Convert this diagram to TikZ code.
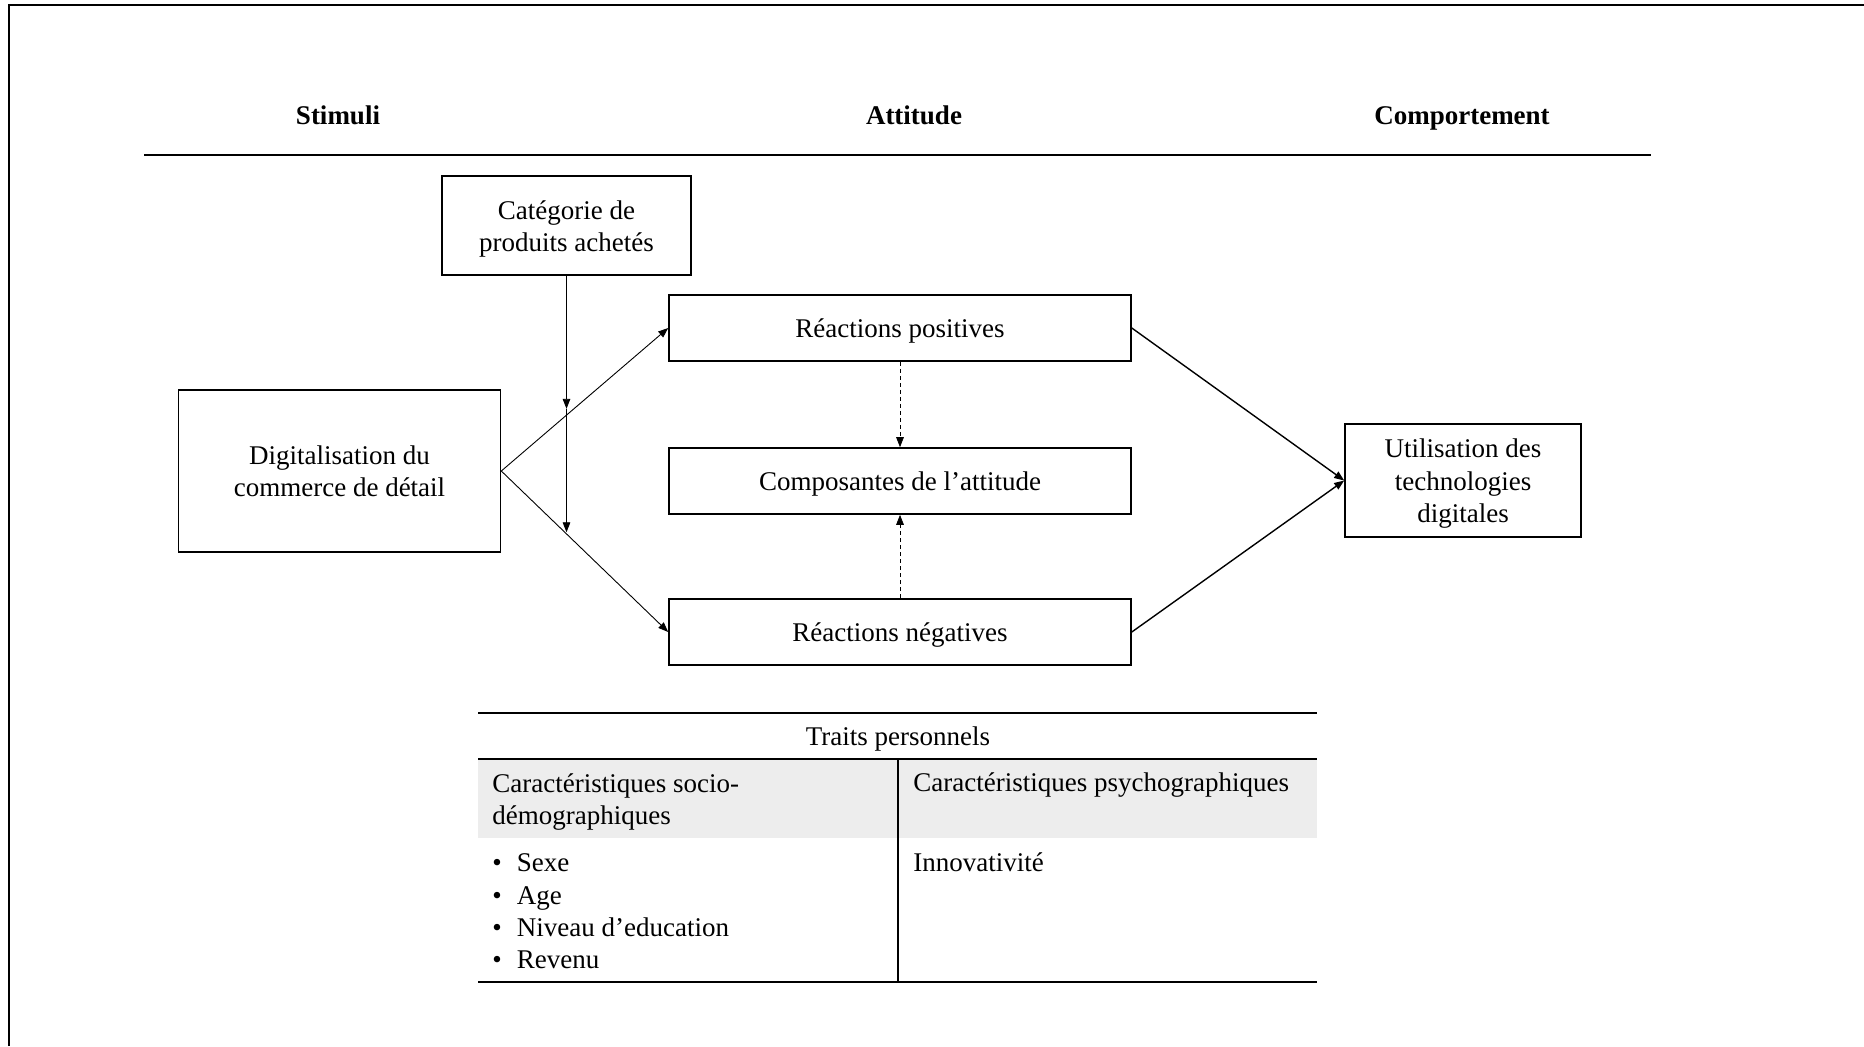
\documentclass[tikz,border=0pt]{standalone}
\usepackage{fontspec}
\setmainfont{Liberation Serif}
\usetikzlibrary{arrows.meta,calc}
\begin{document}
\begin{tikzpicture}[x=0.5pt,y=-0.5pt,
  st/.style={text height=12.7pt, text depth=3pt},
  l2/.style={text height=28.9pt},
  l3/.style={text height=45.1pt},
  l2t/.style={text height=28.7pt},
  txt/.style={font=\fontsize{13.5}{16.2}\selectfont, st},
  hdr/.style={font=\fontsize{13.5}{16.2}\selectfont\bfseries, st},
  tbl/.style={font=\fontsize{13.5}{16}\selectfont, inner sep=0pt, st},
  box/.style={draw, line width=0.8pt, align=center, inner sep=0pt, txt},
  arr/.style={-{Triangle[length=5pt,width=3.8pt]}},
  dsh/.style={arr, line width=0.4pt, dash pattern=on 2pt off 1.5pt}]
\useasboundingbox (0,0) rectangle (1864,1046);
% frame
\draw[line width=1pt] (9,1046) -- (9,5) -- (1864,5);
% headers
\node[hdr] (h1) at (338,115) {Stimuli};
\node[hdr] (h2) at (914,115) {Attitude};
\node[hdr] (h3) at (1462,115) {Comportement};
\draw[line width=0.9pt] (144,155) -- (1651,155);
% boxes
\node[box, l2, minimum width=124.5pt, minimum height=49.5pt] (cat) at (566.5,225.5) {Catégorie de\\produits achetés};
\node[box, l2, minimum width=161pt, minimum height=81pt] (dig) at (339.5,471) {Digitalisation du\\commerce de détail};
\node[box, minimum width=231pt, minimum height=33pt] (pos) at (900,328) {Réactions positives};
\node[box, minimum width=231pt, minimum height=33pt] (comp) at (900,481) {Composantes de l’attitude};
\node[box, minimum width=231pt, minimum height=33pt] (neg) at (900,632) {Réactions négatives};
\node[box, l3, minimum width=118pt, minimum height=56.5pt] (util) at (1463,480.5) {Utilisation des\\technologies\\digitales};
% connectors
\draw[arr, line width=0.45pt] (dig.east) -- (pos.west);
\draw[arr, line width=0.45pt] (dig.east) -- (neg.west);
\coordinate (m1) at ($(dig.east)!0.393!(pos.west)$);
\coordinate (m2) at ($(dig.east)!0.393!(neg.west)$);
\coordinate (m1t) at (cat.south |- m1);
\coordinate (m2t) at (cat.south |- m2);
\draw[arr, line width=0.45pt] (cat.south) -- ([yshift=3pt]m1t);
\draw[arr, line width=0.45pt] ([yshift=3pt]m1t) -- ([yshift=1pt]m2t);
\draw[dsh] (pos.south) -- (comp.north);
\draw[dsh] (neg.north) -- (comp.south);
\draw[arr, line width=0.7pt] (pos.east) -- (util.west);
\draw[arr, line width=0.7pt] (neg.east) -- (util.west);
% table
\fill[black!7] (478,759) rectangle (1317,838);
\draw[line width=0.8pt] (478,713) -- (1317,713);
\draw[line width=0.8pt] (478,759) -- (1317,759);
\draw[line width=0.8pt] (478,982) -- (1317,982);
\draw[line width=0.6pt] (898,759) -- (898,982);
\node[tbl] (tp) at (898,736) {Traits personnels};
\node[tbl, l2t, anchor=west, align=left] (c1) at (492,799) {Caractéristiques socio-\\démographiques};
\node[tbl, anchor=west] (c2) at (913,782) {Caractéristiques psychographiques};
\node[tbl, anchor=west] (b1) at (492,862) {•\hspace{7.5pt}Sexe};
\node[tbl, anchor=west] (b2) at (492,895) {•\hspace{7.5pt}Age};
\node[tbl, anchor=west] (b3) at (492,927) {•\hspace{7.5pt}Niveau d’education};
\node[tbl, anchor=west] (b4) at (492,959) {•\hspace{7.5pt}Revenu};
\node[tbl, anchor=west] (inn) at (913,862) {Innovativité};
\end{tikzpicture}
\end{document}
